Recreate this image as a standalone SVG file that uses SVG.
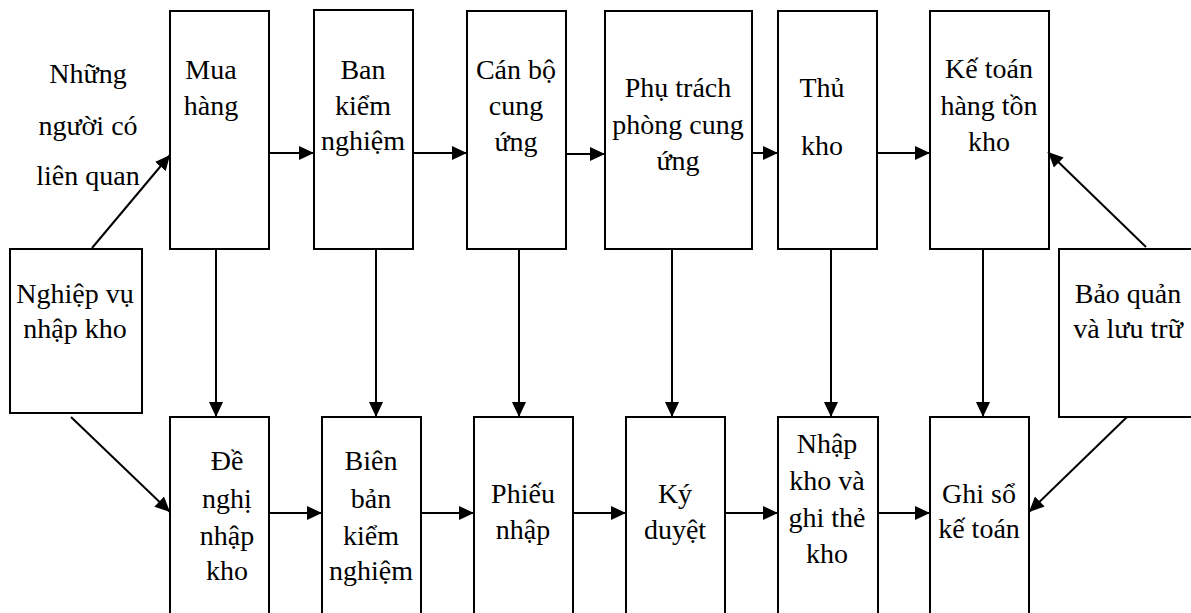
<svg xmlns="http://www.w3.org/2000/svg" width="1191" height="613" viewBox="0 0 1191 613">
  <style>
    .box { fill: #fff; stroke: #000; stroke-width: 2; }
    .lbl { font-size: 28px; fill: #000; text-anchor: middle; }
    .wire { fill: none; stroke: #000; stroke-width: 2; marker-end: url(#head); }
  </style>
  <defs>
    <marker id="head" markerUnits="userSpaceOnUse" markerWidth="15" markerHeight="14" refX="15" refY="7" orient="auto">
      <path d="M0,0 L15,7 L0,14 Z" fill="#000"/>
    </marker>
  </defs>
  <rect width="1191" height="613" fill="#fff"/>

  <g font-family="Liberation Serif, Times New Roman, serif">
  <!-- free label on the left -->
  <g id="nguoi-lien-quan">
    <text class="lbl"><tspan x="88" y="83">Những</tspan><tspan x="88" y="135">người có</tspan><tspan x="88" y="185">liên quan</tspan></text>
  </g>

  <!-- side boxes -->
  <g id="nghiep-vu">
    <rect class="box" x="10" y="249" width="132" height="164"/>
    <text class="lbl"><tspan x="75" y="303">Nghiệp vụ</tspan><tspan x="75" y="338">nhập kho</tspan></text>
  </g>
  <g id="bao-quan">
    <rect class="box" x="1059" y="249" width="150" height="168"/>
    <text class="lbl"><tspan x="1128" y="303">Bảo quản</tspan><tspan x="1128" y="338">và lưu trữ</tspan></text>
  </g>

  <!-- top row: people -->
  <g id="mua-hang">
    <rect class="box" x="170" y="11" width="99" height="238"/>
    <text class="lbl"><tspan x="211" y="79">Mua</tspan><tspan x="211" y="115">hàng</tspan></text>
  </g>
  <g id="ban-kiem-nghiem">
    <rect class="box" x="314" y="10" width="99" height="239"/>
    <text class="lbl"><tspan x="363" y="79">Ban</tspan><tspan x="363" y="115">kiểm</tspan><tspan x="363" y="150">nghiệm</tspan></text>
  </g>
  <g id="can-bo">
    <rect class="box" x="467" y="11" width="99" height="238"/>
    <text class="lbl"><tspan x="516" y="79">Cán bộ</tspan><tspan x="516" y="115">cung</tspan><tspan x="516" y="151">ứng</tspan></text>
  </g>
  <g id="phu-trach">
    <rect class="box" x="605" y="11" width="147" height="238"/>
    <text class="lbl"><tspan x="678" y="97">Phụ trách</tspan><tspan x="678" y="134">phòng cung</tspan><tspan x="678" y="170">ứng</tspan></text>
  </g>
  <g id="thu-kho">
    <rect class="box" x="778" y="11" width="99" height="238"/>
    <text class="lbl"><tspan x="822" y="97">Thủ</tspan><tspan x="822" y="155">kho</tspan></text>
  </g>
  <g id="ke-toan">
    <rect class="box" x="930" y="11" width="119" height="238"/>
    <text class="lbl"><tspan x="989" y="78">Kế toán</tspan><tspan x="989" y="115">hàng tồn</tspan><tspan x="989" y="151">kho</tspan></text>
  </g>

  <!-- bottom row: documents and steps -->
  <g id="de-nghi">
    <rect class="box" x="170" y="417" width="99" height="210"/>
    <text class="lbl"><tspan x="227" y="470">Đề</tspan><tspan x="227" y="508">nghị</tspan><tspan x="227" y="545">nhập</tspan><tspan x="227" y="580">kho</tspan></text>
  </g>
  <g id="bien-ban">
    <rect class="box" x="322" y="417" width="99" height="210"/>
    <text class="lbl"><tspan x="371" y="470">Biên</tspan><tspan x="371" y="508">bản</tspan><tspan x="371" y="545">kiểm</tspan><tspan x="371" y="580">nghiệm</tspan></text>
  </g>
  <g id="phieu-nhap">
    <rect class="box" x="474" y="417" width="99" height="210"/>
    <text class="lbl"><tspan x="523" y="503">Phiếu</tspan><tspan x="523" y="539">nhập</tspan></text>
  </g>
  <g id="ky-duyet">
    <rect class="box" x="626" y="417" width="99" height="210"/>
    <text class="lbl"><tspan x="675" y="503">Ký</tspan><tspan x="675" y="539">duyệt</tspan></text>
  </g>
  <g id="nhap-kho">
    <rect class="box" x="778" y="417" width="100" height="210"/>
    <text class="lbl"><tspan x="827" y="453">Nhập</tspan><tspan x="827" y="490">kho và</tspan><tspan x="827" y="527">ghi thẻ</tspan><tspan x="827" y="563">kho</tspan></text>
  </g>
  <g id="ghi-so">
    <rect class="box" x="930" y="417" width="99" height="210"/>
    <text class="lbl"><tspan x="979" y="503">Ghi sổ</tspan><tspan x="979" y="538">kế toán</tspan></text>
  </g>
  </g>

  <g id="connectors">
    <!-- top row, left to right -->
    <line class="wire" x1="269" y1="153" x2="314" y2="153"/>
    <line class="wire" x1="413" y1="153" x2="467" y2="153"/>
    <line class="wire" x1="566" y1="154" x2="605" y2="154"/>
    <line class="wire" x1="752" y1="153" x2="778" y2="153"/>
    <line class="wire" x1="877" y1="153" x2="930" y2="153"/>
    <!-- bottom row, left to right -->
    <line class="wire" x1="269" y1="513" x2="322" y2="513"/>
    <line class="wire" x1="421" y1="513" x2="474" y2="513"/>
    <line class="wire" x1="573" y1="513" x2="626" y2="513"/>
    <line class="wire" x1="725" y1="513" x2="778" y2="513"/>
    <line class="wire" x1="878" y1="513" x2="930" y2="513"/>
    <!-- top to bottom -->
    <line class="wire" x1="216" y1="249" x2="216" y2="417"/>
    <line class="wire" x1="376" y1="249" x2="376" y2="417"/>
    <line class="wire" x1="519" y1="249" x2="519" y2="417"/>
    <line class="wire" x1="672" y1="249" x2="672" y2="417"/>
    <line class="wire" x1="831" y1="249" x2="831" y2="417"/>
    <line class="wire" x1="983" y1="249" x2="983" y2="417"/>
    <!-- diagonals from the side boxes -->
    <line class="wire" x1="92" y1="248" x2="170" y2="155"/>
    <line class="wire" x1="71" y1="417" x2="170" y2="512"/>
    <line class="wire" x1="1146" y1="247" x2="1048" y2="152"/>
    <line class="wire" x1="1127" y1="417" x2="1029" y2="512"/>
  </g>
</svg>
